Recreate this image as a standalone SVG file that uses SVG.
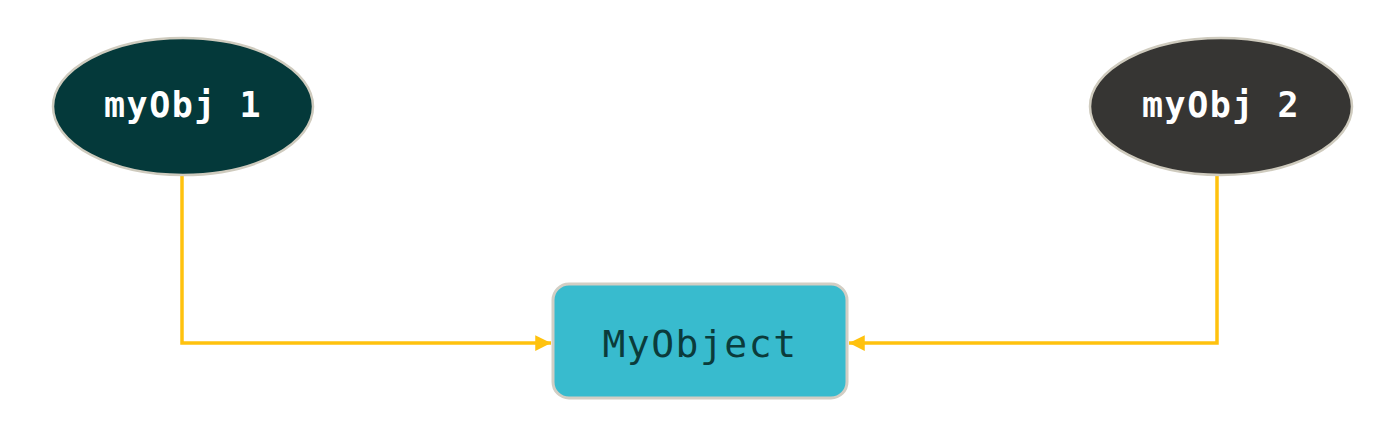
<svg xmlns="http://www.w3.org/2000/svg" width="1386" height="424" viewBox="0 0 1386 424">
  <style>
    .conn { fill: none; stroke: #FFC20E; stroke-width: 3.5; }
    .ell { stroke: #CFCBBE; stroke-width: 2.5; }
    .lbl { font-family: "DejaVu Sans Mono", "Liberation Mono", monospace; font-weight: bold; font-size: 35px; fill: #FFFFFF; text-anchor: middle; letter-spacing: 1.5px; }
    .box { fill: #38BBCE; stroke: #D2CEC4; stroke-width: 3; }
    .boxlbl { font-family: "DejaVu Sans Mono", "Liberation Mono", monospace; font-size: 38px; fill: #0B3B3B; text-anchor: middle; letter-spacing: 1.5px; }
  </style>
  <defs>
    <marker id="arrow" viewBox="0 0 10 10" refX="10" refY="5" markerWidth="4.5" markerHeight="4.5" orient="auto" markerUnits="strokeWidth">
      <path d="M0,0 L10,5 L0,10 Z" fill="#FFC20E"/>
    </marker>
  </defs>

  <g id="connectors">
    <path class="conn" d="M182,176 V343 H551" marker-end="url(#arrow)"/>
    <path class="conn" d="M1217,176 V343 H849" marker-end="url(#arrow)"/>
  </g>

  <g id="node-myObj1">
    <ellipse class="ell" cx="183" cy="106.5" rx="130" ry="68.5" fill="#04393A"/>
    <text class="lbl" x="183" y="117">myObj 1</text>
  </g>

  <g id="node-myObj2">
    <ellipse class="ell" cx="1221" cy="106.5" rx="131" ry="68.5" fill="#363533"/>
    <text class="lbl" x="1221" y="117">myObj 2</text>
  </g>

  <g id="node-MyObject">
    <rect class="box" x="553" y="284" width="294" height="114" rx="16" ry="16"/>
    <text class="boxlbl" x="700" y="357">MyObject</text>
  </g>
</svg>
